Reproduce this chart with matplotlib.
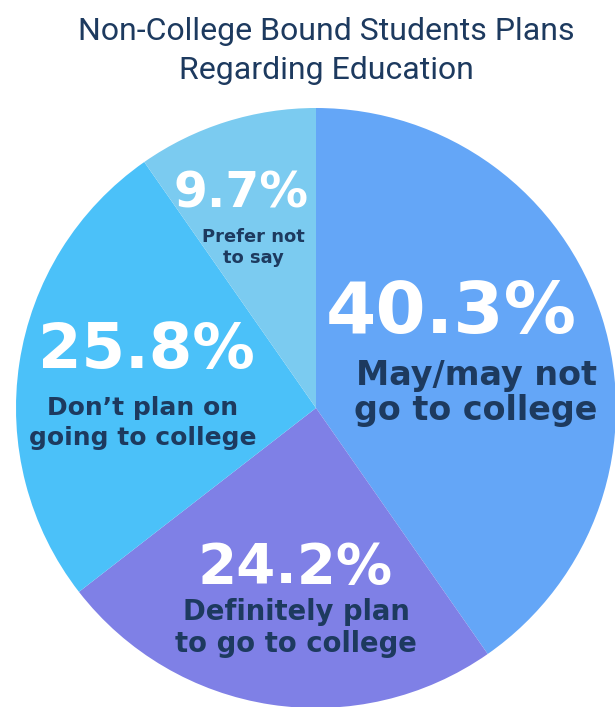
import matplotlib.pyplot as plt

# Survey shares, clockwise from 12 o'clock
labels = ["May/may not\ngo to college", "Definitely plan\nto go to college",
          "Don\u2019t plan on\ngoing to college", "Prefer not\nto say"]
shares = [40.3, 24.2, 25.8, 9.7]
colors = ["#64a6f7", "#7f80e6", "#4bc1f9", "#7bcbf0"]

W, H = 615, 707
fig = plt.figure(figsize=(W / 100, H / 100), dpi=100)
ax = fig.add_axes([0, 0, 1, 1])

ax.pie(shares, colors=colors, startangle=90, counterclock=False,
       radius=300, center=(316, H - 408),
       wedgeprops=dict(linewidth=0, antialiased=True))
ax.set_xlim(0, W)
ax.set_ylim(0, H)
ax.set_aspect("equal")
ax.axis("off")

navy = "#1d3a5f"
font = "DejaVu Sans"

# pixel layout from the top-left corner:
# (pct x, pct baseline, pct size, label x, first baseline, line gap, label size)
spots = [
    (451, 333, 52, 476, 385, 35, 24),
    (295, 583, 40.5, 296, 620, 32, 19.8),
    (146, 368, 45, 143, 415, 30, 18),
    (241, 207, 35, 253, 242, 21, 12.9),
]

for share, lab, (px, py, ps, lx, ly, gap, ls) in zip(shares, labels, spots):
    ax.text(px, H - py, f"{share:.1f}%", ha="center", va="baseline",
            color="white", fontsize=ps, fontweight="bold", family=font)
    for i, line in enumerate(lab.split("\n")):
        ax.text(lx, H - ly - i * gap, line, ha="center", va="baseline",
                color=navy, fontsize=ls, fontweight="bold", family=font)

fig.text(326 / W, 1 - 51 / H, "Non-College Bound Students Plans\nRegarding Education",
         ha="center", va="center", color=navy, fontsize=23,
         family="Roboto", linespacing=1.4)

fig.savefig("out.png", dpi=100)
